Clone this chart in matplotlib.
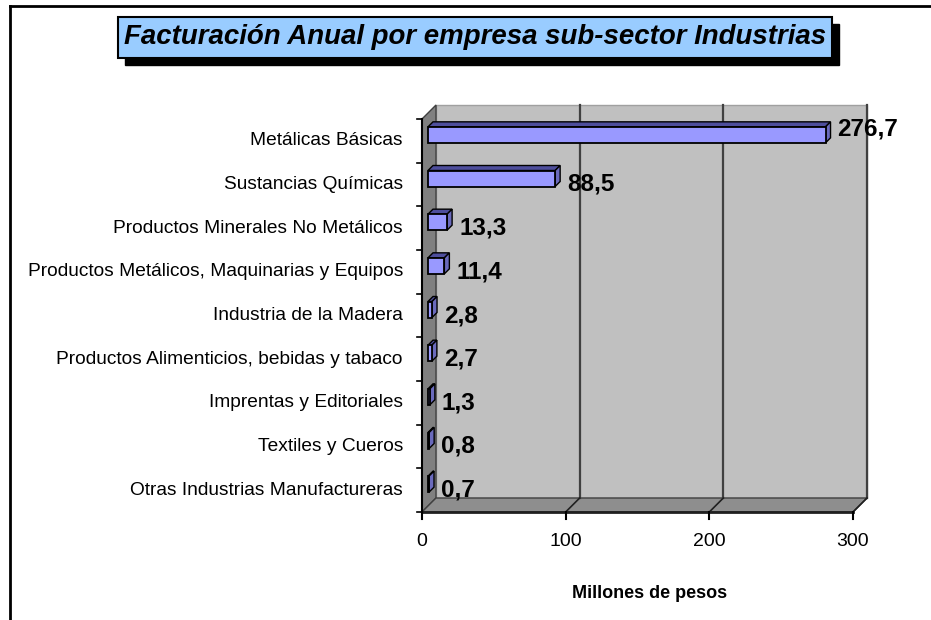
import matplotlib
matplotlib.use("Agg")
import matplotlib.pyplot as plt
from matplotlib.patches import Rectangle, Polygon
from matplotlib.lines import Line2D

# ---------------- data ----------------
categories = [
    "Metálicas Básicas",
    "Sustancias Químicas",
    "Productos Minerales No Metálicos",
    "Productos Metálicos, Maquinarias y Equipos",
    "Industria de la Madera",
    "Productos Alimenticios, bebidas y tabaco",
    "Imprentas y Editoriales",
    "Textiles y Cueros",
    "Otras Industrias Manufactureras",
]
values = [276.7, 88.5, 13.3, 11.4, 2.8, 2.7, 1.3, 0.8, 0.7]
value_labels = ["276,7", "88,5", "13,3", "11,4", "2,8", "2,7", "1,3", "0,8", "0,7"]
xticks = [0, 100, 200, 300]
xtick_labels = ["0", "100", "200", "300"]
title = "Facturación Anual por empresa sub-sector Industrias"
xlabel = "Millones de pesos"

plt.rcParams["font.family"] = ["Liberation Sans", "DejaVu Sans"]

W, H = 931, 620
fig = plt.figure(figsize=(W / 100, H / 100), dpi=100)
fig.patch.set_facecolor("white")

# front plane of the 3-D plot area in pixels
L, R, T, B = 422, 853, 119, 512
ax = fig.add_axes([L / W, 1 - B / H, (R - L) / W, (B - T) / H])
n = len(categories)
XMAX = xticks[-1]
ax.set_xlim(0, XMAX)
ax.set_ylim(-0.5, n - 0.5)
ax.axis("off")

sx = XMAX / (R - L)      # data units per pixel (x)
sy = n / (B - T)         # data units per pixel (y)
DX, DY = 14 * sx, 14 * sy   # wall depth
y0, y1 = -0.5, n - 0.5

# back wall
ax.add_patch(Rectangle((DX, y0 + DY), XMAX, n, fc="#C0C0C0", ec="#A0A0A0",
                       lw=1, clip_on=False, zorder=0))
# left side wall
ax.add_patch(Polygon([(0, y0), (DX, y0 + DY), (DX, y1 + DY), (0, y1)],
                     closed=True, fc="#808080", ec="#404040", lw=1,
                     clip_on=False, zorder=1))
# floor
ax.add_patch(Polygon([(0, y0), (DX, y0 + DY), (XMAX + DX, y0 + DY), (XMAX, y0)],
                     closed=True, fc="#8E8E8E", ec="#404040", lw=1,
                     clip_on=False, zorder=1))
# gridlines on back wall + floor diagonals
for xv in xticks[1:]:
    ax.add_line(Line2D([xv + DX, xv + DX], [y0 + DY, y1 + DY], color="#404040",
                       lw=1.6, clip_on=False, zorder=1.5))
    ax.add_line(Line2D([xv, xv + DX], [y0, y0 + DY], color="#202020",
                       lw=1.2, clip_on=False, zorder=1.5))
# front axis lines
ax.add_line(Line2D([0, XMAX], [y0, y0], color="#202020", lw=2, clip_on=False, zorder=2))
ax.add_line(Line2D([0, 0], [y0, y1], color="black", lw=1.5, clip_on=False, zorder=2))
# x ticks
for xv, lab in zip(xticks, xtick_labels):
    ax.add_line(Line2D([xv, xv], [y0, y0 - 7 * sy], color="black", lw=1.5,
                       clip_on=False, zorder=2))
    ax.text(xv, y0 - 30 * sy, lab, ha="center", va="center", fontsize=14)
# y ticks at category boundaries
for k in range(n + 1):
    yb = k - 0.5
    ax.add_line(Line2D([-5 * sx, 0], [yb, yb], color="black", lw=1.2,
                       clip_on=False, zorder=2))

# bars (3-D)
BOX, BOY = 6 * sx, 6 * sy        # bar placement inside depth
BDX, BDY = 5 * sx, 5 * sy        # bar depth
BH = 16 * sy                     # bar front height
for i, (cat, v, lab) in enumerate(zip(categories, values, value_labels)):
    yc = n - 1 - i
    ax.text(-19 * sx, yc, cat, ha="right", va="center", fontsize=13.8)
    fx = BOX
    fy = yc + BOY - BH / 2
    top = fy + BH
    ax.add_patch(Polygon([(fx, top), (fx + BDX, top + BDY), (fx + v + BDX, top + BDY),
                          (fx + v, top)], closed=True, fc="#4E4E9C", ec="black",
                         lw=1, clip_on=False, zorder=3))
    ax.add_patch(Polygon([(fx + v, fy), (fx + v + BDX, fy + BDY),
                          (fx + v + BDX, top + BDY), (fx + v, top)], closed=True,
                         fc="#6A6ABC", ec="black", lw=1, clip_on=False, zorder=3))
    ax.add_patch(Rectangle((fx, fy), v, BH, fc="#9999FF", ec="black", lw=1.3,
                           clip_on=False, zorder=4))
    # labels of bars reaching the right wall are lifted like the original
    lift = 12 * sy if v > 0.85 * XMAX else 0
    ax.text(fx + v + BDX + 7 * sx, yc + lift, lab, ha="left", va="center",
            fontsize=17.5, fontweight="bold", zorder=5)

ax.text((650 - L) * sx, y0 - 82 * sy, xlabel, ha="center", va="center",
        fontsize=13, fontweight="bold")

# title box with shadow
tx0, ty0, tx1, ty1 = 118, 17, 832, 58
sh = 7
fig.patches.append(Rectangle(((tx0 + sh) / W, 1 - (ty1 + sh) / H), (tx1 - tx0) / W,
                             (ty1 - ty0) / H, transform=fig.transFigure,
                             fc="black", ec="black", zorder=1))
fig.patches.append(Rectangle((tx0 / W, 1 - ty1 / H), (tx1 - tx0) / W,
                             (ty1 - ty0) / H, transform=fig.transFigure,
                             fc="#99CCFF", ec="black", lw=1.5, zorder=2))
fig.text((tx0 + tx1) / 2 / W, 1 - (ty0 + ty1) / 2 / H, title, ha="center",
         va="center", fontsize=19.9, fontweight="bold", fontstyle="italic", zorder=3)

# outer frame (left and top edges visible)
fig.add_artist(Line2D([10 / W, 10 / W], [0, 1 - 6 / H], transform=fig.transFigure,
                      color="black", lw=2))
fig.add_artist(Line2D([10 / W, 1], [1 - 6 / H, 1 - 6 / H], transform=fig.transFigure,
                      color="black", lw=2))

fig.savefig("out.png", dpi=100)
